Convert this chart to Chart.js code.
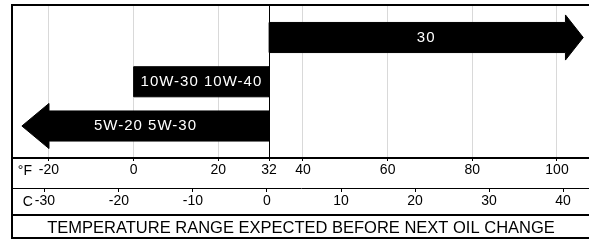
<!doctype html>
<html lang="en">
<head>
    <meta charset="UTF-8">
    <title>Oil grade by temperature range</title>
    <script src="https://cdn.jsdelivr.net/npm/chart.js@4"></script>
    <style>
        body {
            margin: 0;
            background: #fff;
        }
        #frame {
            position: absolute;
            left: 11px;
            top: 4px;
            width: 576px;
            height: 231px;
            border-top: 2px solid #000;
            border-left: 2px solid #000;
            border-bottom: 2px solid #000;
        }
        #chart {
            display: block;
        }
    </style>
</head>
<body>
<div id="frame"><canvas id="chart" width="576" height="231"></canvas></div>

<script>
    // oil grades, top row first
    const oilGrades = ['30', '10W-30 10W-40', '5W-20 5W-30'];
    const gradeRow = [3, 2, 1];
    // temperature band in °F (arrows run past the end of the scale)
    const fromF = [32, 0, -20];
    const toF = [102, 32, 32];
    const arrowTipF = [106.2, null, -26.4];

    const fahrenheitTicks = [-20, 0, 20, 32, 40, 60, 80, 100];
    const celsiusTicks = [-30, -20, -10, 0, 10, 20, 30, 40];
    const footerText = 'TEMPERATURE RANGE EXPECTED BEFORE NEXT OIL CHANGE';

    const FONT = '"Liberation Sans", Arial, sans-serif';
    const BAR = 0.34;   // half thickness of a band
    const HEAD = 0.51;  // half height of an arrow head

    Chart.defaults.font.family = FONT;
    Chart.defaults.color = '#000';

    function outline(i) {
        const y = gradeRow[i], lo = fromF[i], hi = toF[i], tip = arrowTipF[i];
        if (tip != null && tip > hi) {
            return [[lo, y + BAR], [hi, y + BAR], [hi, y + HEAD], [tip, y],
                    [hi, y - HEAD], [hi, y - BAR], [lo, y - BAR], [lo, y + BAR]];
        }
        if (tip != null && tip < lo) {
            return [[hi, y + BAR], [lo, y + BAR], [lo, y + HEAD], [tip, y],
                    [lo, y - HEAD], [lo, y - BAR], [hi, y - BAR], [hi, y + BAR]];
        }
        return [[lo, y + BAR], [hi, y + BAR], [hi, y - BAR], [lo, y - BAR], [lo, y + BAR]];
    }

    const datasets = oilGrades.map((g, i) => ({
        label: g,
        data: outline(i).map(([x, y]) => ({ x, y })),
        xAxisID: 'x',
        yAxisID: 'y',
        borderColor: '#000',
        borderWidth: 1,
        backgroundColor: '#000',
        fill: 'shape',
        pointRadius: 0,
        tension: 0
    }));

    const gradeLabels = {
        id: 'gradeLabels',
        afterDatasetsDraw(chart) {
            const { ctx, scales } = chart;
            const x = scales.x, y = scales.y, c = scales.c;
            ctx.save();
            ctx.fillStyle = '#fff';
            ctx.font = '15px ' + FONT;
            ctx.letterSpacing = '1px';
            ctx.textAlign = 'center';
            ctx.textBaseline = 'middle';
            oilGrades.forEach((g, i) => {
                const tip = arrowTipF[i] == null ? fromF[i] : arrowTipF[i];
                const lo = Math.min(fromF[i], tip), hi = Math.max(toF[i], tip);
                ctx.fillText(g, x.getPixelForValue((lo + hi) / 2), y.getPixelForValue(gradeRow[i]));
            });
            // unit letters in front of each scale
            ctx.fillStyle = '#000';
            ctx.font = '14px ' + FONT;
            ctx.letterSpacing = '0px';
            ctx.textAlign = 'right';
            ctx.fillText('°F', x.getPixelForValue(fahrenheitTicks[0]) - 17, x.top + 13);
            ctx.fillText('C', c.getPixelForValue(celsiusTicks[0]) - 12, c.top + 14);
            ctx.restore();
        }
    };

    new Chart(document.getElementById('chart'), {
        type: 'line',
        data: { datasets: datasets },
        options: {
            responsive: false,
            animation: false,
            layout: { padding: 0 },
            plugins: {
                legend: { display: false },
                tooltip: { enabled: false }
            },
            scales: {
                y: { type: 'linear', display: false, min: 0.277, max: 3.712 },
                x: {
                    type: 'linear',
                    axis: 'x',
                    position: 'bottom',
                    weight: 1,
                    min: -28.5,
                    max: 107.56,
                    afterBuildTicks: s => { s.ticks = fahrenheitTicks.map(v => ({ value: v })); },
                    afterFit: s => { s.height = 30; },
                    grid: {
                        color: ctx => ctx.tick && ctx.tick.value === 32 ? '#000' : 'rgba(0,0,0,0.15)',
                        tickColor: '#000',
                        tickLength: 3
                    },
                    border: { display: true, color: '#000', width: 2 },
                    ticks: { font: { size: 14 }, padding: 1, maxRotation: 0, autoSkip: false }
                },
                c: {
                    type: 'linear',
                    axis: 'x',
                    position: 'bottom',
                    weight: 2,
                    min: -34.32,
                    max: 43.51,
                    afterBuildTicks: s => { s.ticks = celsiusTicks.map(v => ({ value: v })); },
                    afterFit: s => { s.height = 27; },
                    grid: { drawOnChartArea: false, color: '#000', tickLength: 4 },
                    border: { display: true, color: '#000', width: 1 },
                    ticks: { font: { size: 14 }, padding: 1, maxRotation: 0, autoSkip: false }
                },
                t: {
                    type: 'linear',
                    axis: 'x',
                    position: 'bottom',
                    weight: 3,
                    min: 0,
                    max: 1,
                    afterFit: s => { s.height = 22; },
                    grid: { display: false },
                    border: { display: true, color: '#000', width: 2 },
                    ticks: { display: false },
                    title: {
                        display: true,
                        text: footerText,
                        font: { size: 16.5, lineHeight: 1 },
                        padding: 0
                    }
                }
            }
        },
        plugins: [gradeLabels]
    });
</script>
</body>
</html>
